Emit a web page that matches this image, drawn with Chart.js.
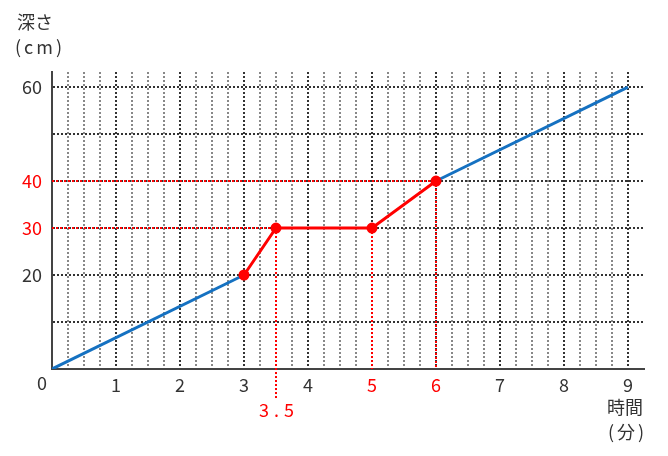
<!doctype html>
<html>
<head>
<meta charset="utf-8">
<title>深さと時間</title>
<script src="https://cdn.jsdelivr.net/npm/chart.js@4/dist/chart.umd.min.js"></script>
<style>
body { margin: 0; background: #fff; }
canvas { display: block; }
</style>
</head>
<body>
<canvas id="chart" width="668" height="456"></canvas>
<script>
// data: time (min) vs depth (cm)
var riseTimes = [0, 3];
var riseDepths = [0, 20];
var midTimes = [3, 3.5, 5, 6];
var midDepths = [20, 30, 30, 40];
var lastTimes = [6, 9];
var lastDepths = [40, 60];

var xLabelTicks = [1, 2, 3, 4, 5, 6, 7, 8, 9];
var redXTicks = [5, 6];
var yLabelTicks = [20, 30, 40, 60];
var redYTicks = [30, 40];

var BLUE = '#1571c1';
var RED = '#ff0000';
var INK = '#333333';
var FONT = '"Noto Sans CJK JP", "Noto Sans", sans-serif';

function pts(xs, ys) {
	return xs.map(function(x, i) { return {x: x, y: ys[i]}; });
}

function guide(points) {
	return {
		data: points,
		borderColor: RED,
		borderWidth: 2,
		borderDash: [2, 2],
		pointRadius: 0,
		clip: false
	};
}

// red dotted guides from the y axis / down to the x axis
var guides = [
	guide([{x: 0, y: midDepths[1]}, {x: midTimes[1], y: midDepths[1]}]),
	guide([{x: 0, y: midDepths[3]}, {x: midTimes[3], y: midDepths[3]}]),
	guide([{x: midTimes[1], y: midDepths[1]}, {x: midTimes[1], y: -6.2}]),
	guide([{x: midTimes[2], y: midDepths[2]}, {x: midTimes[2], y: 0}]),
	guide([{x: midTimes[3], y: midDepths[3]}, {x: midTimes[3], y: 0}])
];

var extraText = {
	id: 'extraText',
	afterDraw: function(chart) {
		var ctx = chart.ctx;
		var x = chart.scales.x;
		ctx.save();
		ctx.font = '18px ' + FONT;
		ctx.textBaseline = 'middle';
		ctx.fillStyle = INK;
		ctx.textAlign = 'left';
		ctx.fillText('深さ', 17, 22);
		ctx.fillText('時間', 607, 407);
		ctx.letterSpacing = '3px';
		ctx.fillText('(cm)', 15, 47);
		ctx.fillText('(分)', 608, 432);
		ctx.textAlign = 'center';
		ctx.letterSpacing = '0px';
		ctx.fillText('0', x.getPixelForValue(0) - 10, 383);
		ctx.fillStyle = RED;
		ctx.letterSpacing = '5px';
		ctx.fillText('3.5', x.getPixelForValue(3.5) + 3, 410);
		ctx.restore();
	}
};

var datasets = [{
	data: pts(midTimes, midDepths),
	borderColor: RED,
	borderWidth: 3,
	pointRadius: 4,
	pointBackgroundColor: RED,
	pointBorderColor: RED
}, {
	data: pts(riseTimes, riseDepths),
	borderColor: BLUE,
	borderWidth: 3,
	pointRadius: 0
}, {
	data: pts(lastTimes, lastDepths),
	borderColor: BLUE,
	borderWidth: 3,
	pointRadius: 0
}].concat(guides);

new Chart(document.getElementById('chart'), {
	type: 'line',
	data: {datasets: datasets},
	plugins: [extraText],
	options: {
		responsive: false,
		animation: false,
		events: [],
		layout: {padding: {top: 72, right: 24, left: 0, bottom: 0}},
		plugins: {legend: {display: false}, tooltip: {enabled: false}},
		scales: {
			x: {
				type: 'linear',
				min: 0,
				max: 9.25,
				afterFit: function(s) { s.height = 87; },
				border: {display: true, color: '#444', width: 2, dash: [2, 2]},
				grid: {
					drawTicks: false,
					lineWidth: 2,
					color: function(c) {
						var v = c.tick ? c.tick.value : 0;
						if (v <= 0 || v > 9) return 'transparent';
						return Number.isInteger(v) ? '#333' : '#888';
					}
				},
				ticks: {
					stepSize: 0.25,
					includeBounds: false,
					autoSkip: false,
					maxRotation: 0,
					padding: 5,
					font: {family: FONT, size: 18},
					color: function(c) {
						return redXTicks.indexOf(c.tick.value) >= 0 ? RED : INK;
					},
					callback: function(v) {
						return xLabelTicks.indexOf(v) >= 0 ? String(v) : '';
					}
				}
			},
			y: {
				type: 'linear',
				min: 0,
				max: 63.2,
				afterFit: function(s) { s.width = 52; },
				border: {display: true, color: '#444', width: 2, dash: [2, 2]},
				grid: {
					drawTicks: false,
					lineWidth: 2,
					color: function(c) {
						var v = c.tick ? c.tick.value : 0;
						return (v <= 0 || v > 60) ? 'transparent' : '#333';
					}
				},
				ticks: {
					stepSize: 10,
					includeBounds: false,
					padding: 10,
					font: {family: FONT, size: 18},
					color: function(c) {
						return redYTicks.indexOf(c.tick.value) >= 0 ? RED : INK;
					},
					callback: function(v) {
						return yLabelTicks.indexOf(v) >= 0 ? String(v) : '';
					}
				}
			}
		}
	}
});
</script>
</body>
</html>
